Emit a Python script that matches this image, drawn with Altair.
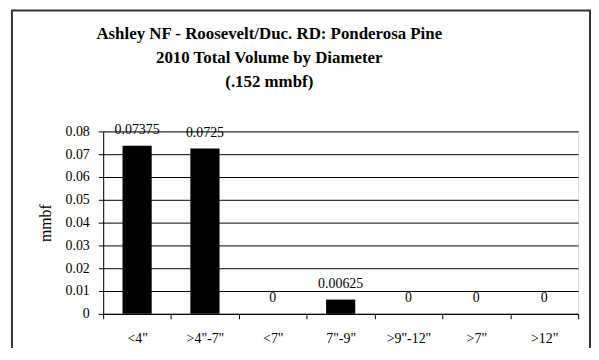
import altair as alt
import pandas as pd

categories = ['<4"', '>4"-7"', '<7"', '7"-9"', '>9"-12"', '>7"', '>12"']
values = [0.07375, 0.0725, 0, 0.00625, 0, 0, 0]
labels = ["0.07375", "0.0725", "0", "0.00625", "0", "0", "0"]
title_lines = ["Ashley NF - Roosevelt/Duc. RD: Ponderosa Pine",
               "2010 Total Volume by Diameter",
               "(.152 mmbf)"]
y_title = "mmbf"
y_ticks = [0, 0.01, 0.02, 0.03, 0.04, 0.05, 0.06, 0.07, 0.08]

df = pd.DataFrame({"cat": categories, "val": values, "lab": labels})
FONT = "Liberation Serif"

x_enc = alt.X("cat:N", sort=categories, title=None,
              scale=alt.Scale(paddingInner=0, paddingOuter=0),
              axis=alt.Axis(labelAngle=0, tickBand="extent", tickSize=5,
                            labelPadding=13, labelFont=FONT, labelFontSize=14,
                            labelColor="black", domainColor="black",
                            tickColor="black", grid=False))
y_enc = alt.Y("val:Q", title=y_title,
              scale=alt.Scale(domain=[0, 0.08], nice=False),
              axis=alt.Axis(values=y_ticks, labelOverlap=False,
                            format=".2~f", tickSize=5, labelPadding=9,
                            labelFont=FONT, labelFontSize=14, labelColor="black",
                            domainColor="black", tickColor="black",
                            grid=True, gridColor="black", gridOpacity=1,
                            titleFont=FONT, titleFontSize=16,
                            titleFontWeight="normal", titleColor="black",
                            titlePadding=12))

base = alt.Chart(df).encode(x=x_enc, y=y_enc)
bars = base.mark_bar(color="black", width=alt.RelativeBandSize(0.43))
text = base.mark_text(font=FONT, fontSize=14, color="black", baseline="bottom", dy=-9).encode(
    text="lab:N")

frame = alt.Chart(pd.DataFrame({"a": [0]})).mark_rect(
    filled=False, stroke="#333333", strokeWidth=2).encode(
    x=alt.value(-92), x2=alt.value(491), y=alt.value(-122), y2=alt.value(260))

chart = alt.layer(frame, bars, text).properties(
    width=479, height=184,
    title=alt.TitleParams(text=title_lines, font=FONT, fontSize=17,
                          fontWeight="bold", color="black", anchor="middle",
                          lineHeight=24, offset=36, dx=-72, dy=118),
    autosize=alt.AutoSizeParams(type="none"),
    padding={"left": 96, "top": 123, "right": 13, "bottom": 33},
).configure_view(stroke="black", strokeWidth=1).configure(background="white")

chart.save("out.html", embed_options={"renderer": "svg", "actions": False})
